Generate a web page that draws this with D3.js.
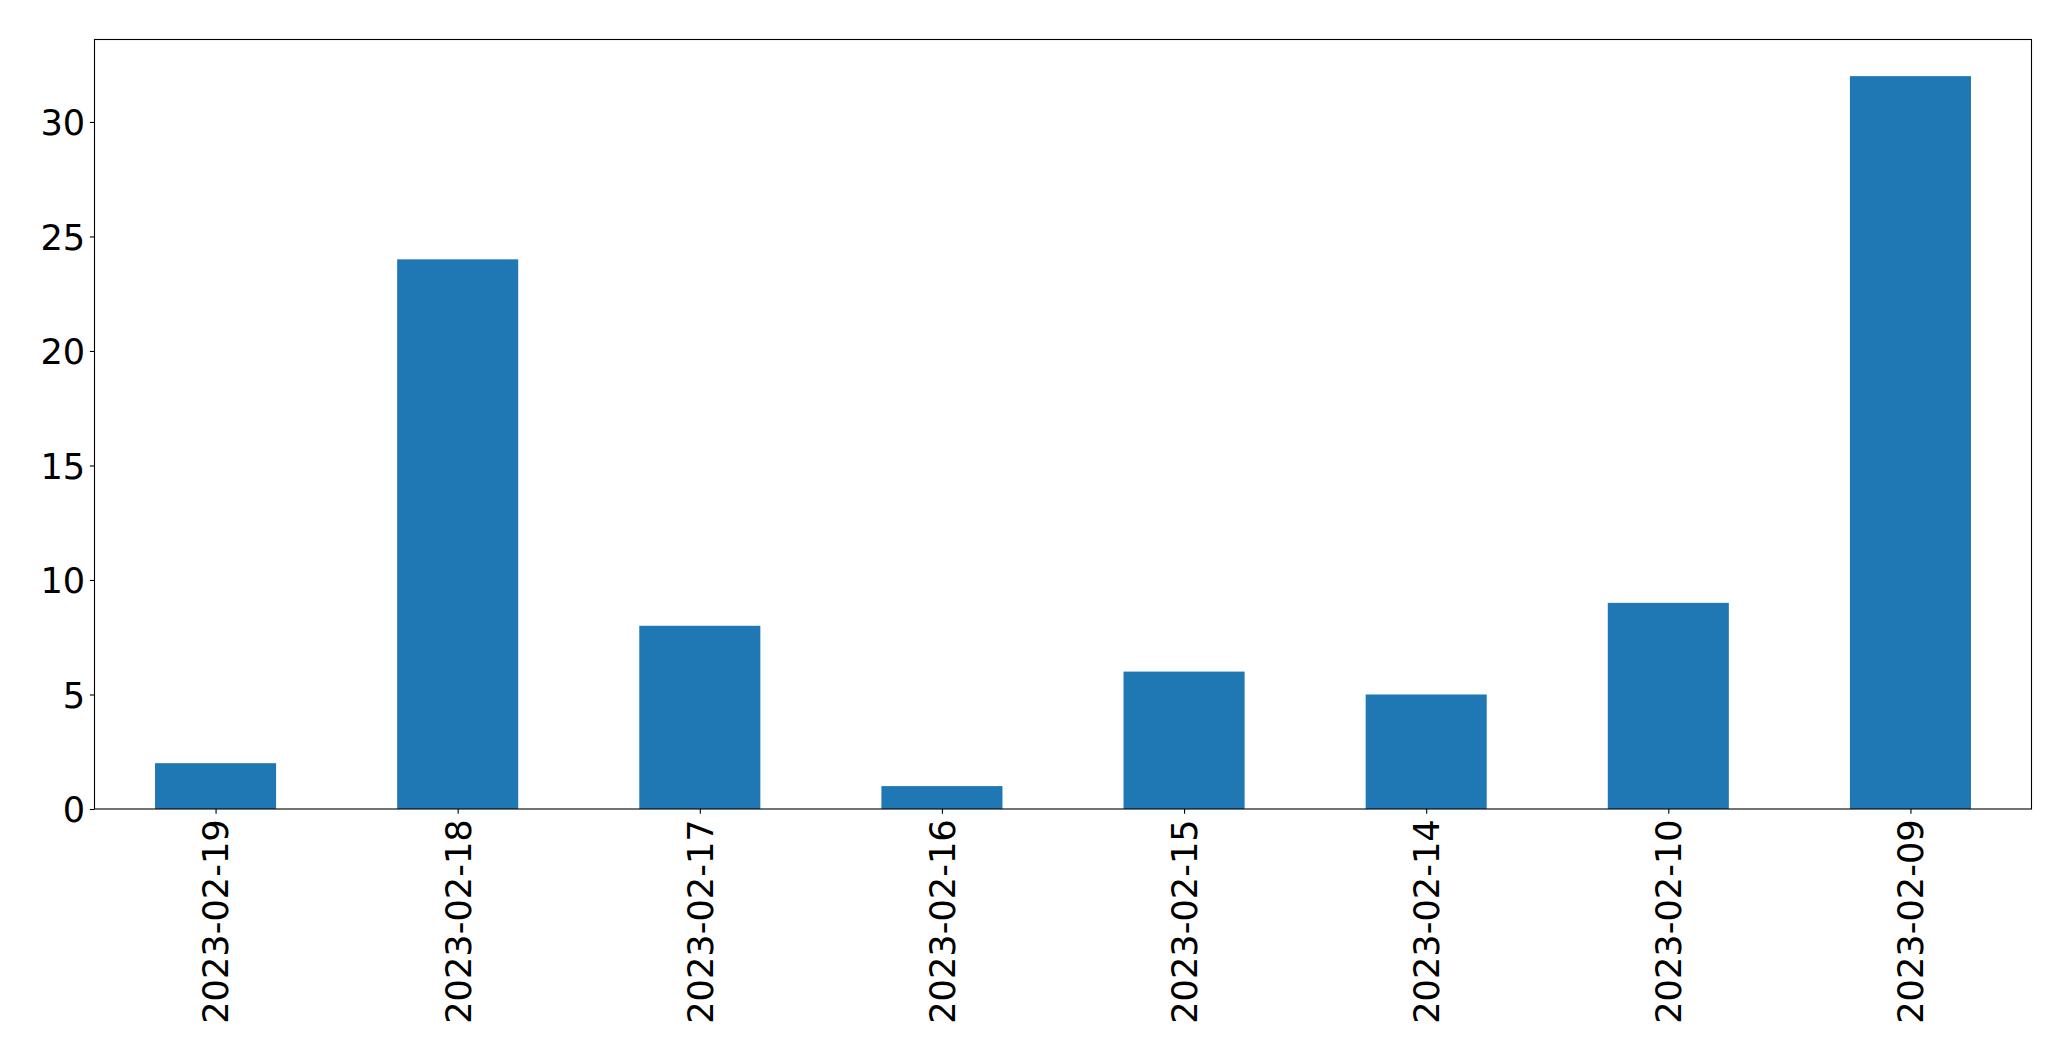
<!DOCTYPE html>
<html><head><meta charset="utf-8">
<script src="https://cdn.jsdelivr.net/npm/d3@7"></script>
<style>
html,body{margin:0;padding:0;background:#fff;}
svg{display:block;}
text{font-family:"DejaVu Sans",sans-serif;fill:#000;}
</style></head>
<body>
<script>
const categories = ["2023-02-19","2023-02-18","2023-02-17","2023-02-16","2023-02-15","2023-02-14","2023-02-10","2023-02-09"];
const values = [2,24,8,1,6,5,9,32];
const yTicks = [0,5,10,15,20,25,30];

const W = 2071, H = 1061;
const m = {left:94.5, right:2031.5, top:39.5, bottom:809};
const fs = 35.2;

const svg = d3.select("body").append("svg").attr("width",W).attr("height",H);

const x = d3.scaleLinear().domain([-0.5, categories.length-0.5]).range([m.left, m.right]);
const y = d3.scaleLinear().domain([0, d3.max(values)*1.05]).range([m.bottom, m.top]);

svg.append("g").selectAll("rect").data(values).join("rect")
  .attr("x",(d,i)=>x(i-0.25)).attr("width",(d,i)=>x(i+0.25)-x(i-0.25))
  .attr("y",d=>y(d)).attr("height",d=>y(0)-y(d))
  .attr("fill","#1f77b4");

// frame
svg.append("rect").attr("x",m.left).attr("y",m.top)
  .attr("width",m.right-m.left).attr("height",m.bottom-m.top)
  .attr("fill","none").attr("stroke","#000").attr("stroke-width",1.1);

const tickLen = 4.67, pad = 4.67;
// y axis
const yAxis = d3.axisLeft(y).tickValues(yTicks).tickSize(tickLen).tickPadding(pad).tickFormat(d3.format("d"));
const gy = svg.append("g").attr("transform",`translate(${m.left},0)`).call(yAxis);
gy.select(".domain").remove();
gy.selectAll("line").attr("stroke","#000").attr("stroke-width",1.1);
gy.selectAll("text").attr("font-size",fs).attr("font-family","DejaVu Sans").attr("dy","0.36em");

// x axis
const xAxis = d3.axisBottom(x).tickValues(d3.range(categories.length)).tickSize(tickLen).tickPadding(pad)
  .tickFormat(i=>categories[i]);
const gx = svg.append("g").attr("transform",`translate(0,${m.bottom})`).call(xAxis);
gx.select(".domain").remove();
gx.selectAll("line").attr("stroke","#000").attr("stroke-width",1.1);
gx.selectAll("text")
  .attr("font-size",fs).attr("font-family","DejaVu Sans")
  .attr("text-anchor","end")
  .attr("y",0).attr("dy","0.35em")
  .attr("transform",`translate(0,${tickLen+pad+1}) rotate(-90)`);
</script>
</body></html>
